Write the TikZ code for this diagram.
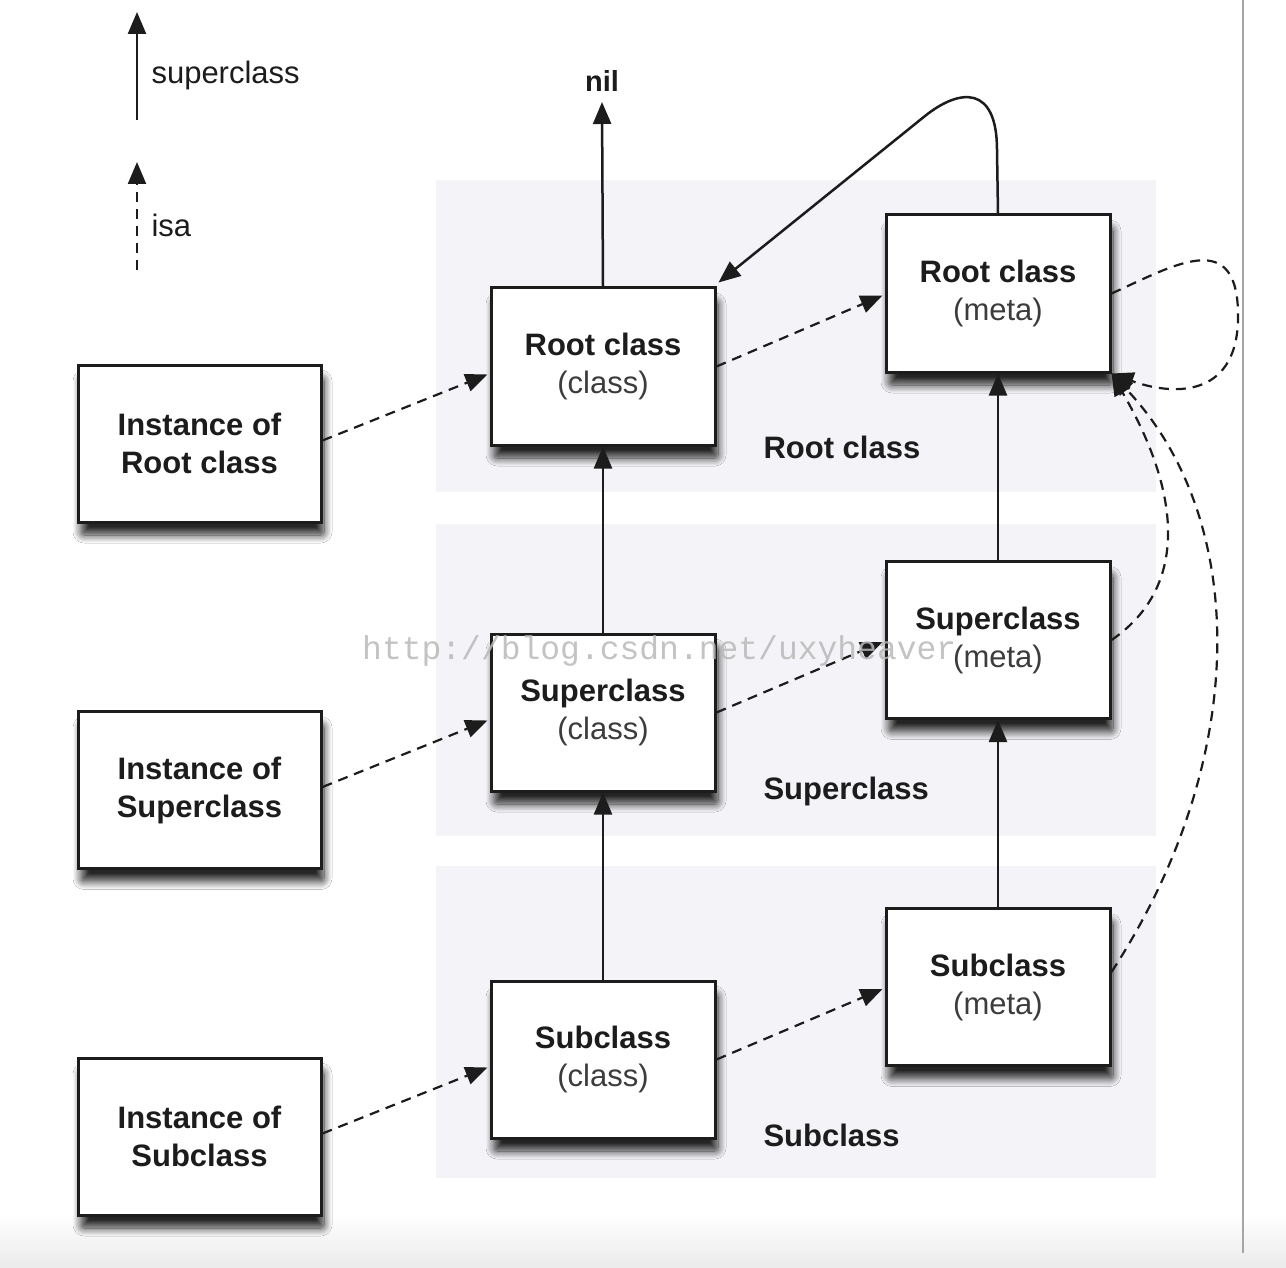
\documentclass[tikz,border=0pt]{standalone}
\usepackage{fontspec}
\setmainfont{Liberation Sans}
\newfontfamily\wmfont{Liberation Mono}
\usetikzlibrary{arrows.meta,shadows.blur,calc}
\definecolor{band}{RGB}{244,243,247}
\definecolor{ink}{RGB}{28,28,28}
\definecolor{subtext}{RGB}{60,60,60}
\definecolor{wm}{RGB}{185,185,185}
\begin{document}
\begin{tikzpicture}[x=1pt,y=-1pt,
  box/.style={draw=ink, line width=3pt, fill=white, align=center, inner sep=0pt,
    minimum height=157pt, text=ink, font=\fontsize{31}{38}\selectfont,
    blur shadow={shadow xshift=3pt, shadow yshift=-13pt, shadow opacity=85,
      shadow blur steps=12, shadow blur radius=8pt, shadow blur extra rounding=3pt}},
  clsbox/.style={box, minimum width=224pt},
  instbox/.style={box, minimum width=243pt},
  bandlbl/.style={anchor=west, text=ink, font=\bfseries\fontsize{31}{38}\selectfont},
  legendlbl/.style={anchor=west, text=ink, font=\fontsize{31}{38}\selectfont},
  sup/.style={draw=ink, line width=2.5pt, -{Triangle[length=22pt,width=18pt]}},
  isa/.style={draw=ink, line width=2.2pt, dash pattern=on 10pt off 7pt,
    -{Triangle[length=22pt,width=18pt]}},
  bandfill/.style={fill=band, draw=none}
]
\useasboundingbox (0,0) rectangle (1286,1268);
\fill[white] (0,0) rectangle (1286,1268);
\shade[top color=white, bottom color={rgb,255:red,234;green,234;blue,234}] (0,1215) rectangle (1286,1268);
\draw[gray!70, line width=1.6pt] (1243,0) -- (1243,1253);

% bands
\path[bandfill] (436,180) rectangle (1156,492);
\path[bandfill] (436,524) rectangle (1156,836);
\path[bandfill] (436,866) rectangle (1156,1178);

% legend
\coordinate (la1) at (137,120);
\coordinate (lb1) at (137,12);
\coordinate (la2) at (137,270);
\coordinate (lb2) at (137,162);
\draw[sup] (la1) -- (lb1);
\draw[isa] (la2) -- (lb2);
\node[legendlbl] (lsup) at (148,75) {superclass};
\node[legendlbl] (lisa) at (148,225) {isa};

% nodes
\node[instbox] (inst1) at (199.5,443.5) {\textbf{Instance of}\\\textbf{Root class}};
\node[instbox] (inst2) at (199.5,790) {\textbf{Instance of}\\\textbf{Superclass}};
\node[instbox] (inst3) at (199.5,1136.5) {\textbf{Instance of}\\\textbf{Subclass}};

\node[clsbox] (rc) at (603,366.5) {\textbf{Root class}\\\textcolor{subtext}{(class)}};
\node[clsbox] (sc) at (603,712.5) {\textbf{Superclass}\\\textcolor{subtext}{(class)}};
\node[clsbox] (subc) at (603,1059.5) {\textbf{Subclass}\\\textcolor{subtext}{(class)}};

\node[clsbox] (rm) at (998,293.5) {\textbf{Root class}\\\textcolor{subtext}{(meta)}};
\node[clsbox] (sm) at (998,640) {\textbf{Superclass}\\\textcolor{subtext}{(meta)}};
\node[clsbox] (subm) at (998,987) {\textbf{Subclass}\\\textcolor{subtext}{(meta)}};

\node[text=ink, font=\bfseries\fontsize{29}{34}\selectfont, anchor=south, inner sep=0pt] (nil) at (602,92) {nil};

\node[bandlbl] (lbl1) at (760,447) {Root class};
\node[bandlbl] (lbl2) at (760,791) {Superclass};
\node[bandlbl] (lbl3) at (760,1135) {Subclass};

% superclass arrows
\draw[sup] (rc.north) -- ($(nil.south)+(0,10)$);
\draw[sup] (sc.north) -- (rc.south);
\draw[sup] (subc.north) -- (sc.south);
\draw[sup] (sm.north) -- (rm.south);
\draw[sup] (subm.north) -- (sm.south);
\draw[sup] (rm.north) -- (997,150) .. controls (997,85) and (960,88) .. (925,116) -- ($(rc.north east)+(2,-4)$);

% isa arrows
\draw[isa] ($(inst1.east)+(0,-3)$) -- ($(rc.west)+(-2,8)$);
\draw[isa] ($(inst2.east)+(0,-3)$) -- ($(sc.west)+(-2,8)$);
\draw[isa] ($(inst3.east)+(0,-3)$) -- ($(subc.west)+(-2,8)$);
\draw[isa] (rc.east) -- ($(rm.west)+(-2,2)$);
\draw[isa] (sc.east) -- ($(sm.west)+(-2,2)$);
\draw[isa] (subc.east) -- ($(subm.west)+(-2,2)$);
\draw[isa] (rm.east) .. controls (1175,265) and (1240,225) .. (1238,320)
  .. controls (1236,400) and (1170,395) .. (rm.south east);
\draw[isa] (sm.east) .. controls (1185,590) and (1185,500) .. (rm.south east);
\draw[isa] ($(subm.east)+(0,-15)$) .. controls (1250,760) and (1250,520) .. (rm.south east);

% watermark
\node[anchor=west, text=wm, opacity=0.85, inner sep=0pt, font=\wmfont\fontsize{33}{38}\selectfont] (wmark) at (362,651) {http://blog.csdn.net/uxyheaver};
\end{tikzpicture}
\end{document}
